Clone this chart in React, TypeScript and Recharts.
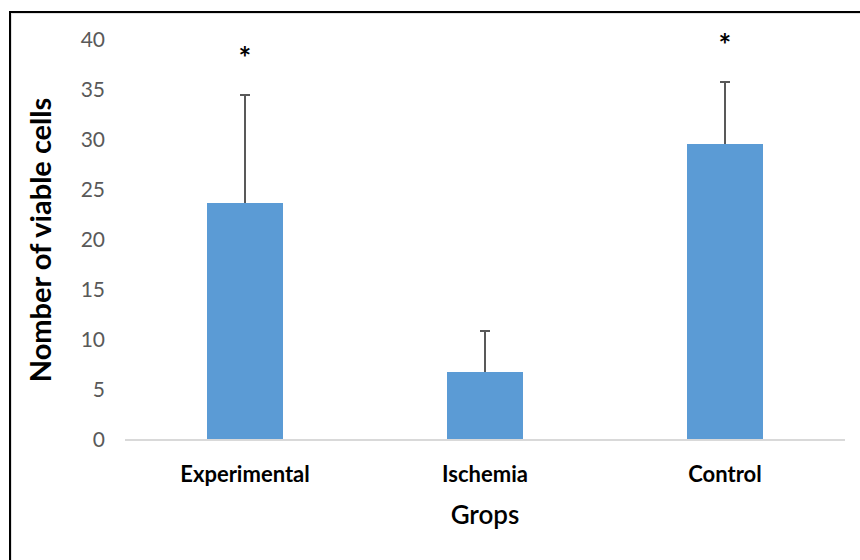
import { BarChart, Bar, XAxis, YAxis, LabelList } from 'recharts';

const groups = ['Experimental', 'Ischemia', 'Control'];
const means = [23.7, 6.8, 29.6];
const errors = [10.8, 4.1, 6.2];
const marks = ['*', '', '*'];
const yTicks = [0, 5, 10, 15, 20, 25, 30, 35, 40];

const data = groups.map((g, i) => ({ group: g, mean: means[i], err: errors[i], mark: marks[i] }));

const FONT = 'Lato, "Open Sans", sans-serif';

function Whisker(props: any) {
  const { x, y, width, height, index } = props;
  const v = means[index];
  if (!v) return null;
  const k = height / v;
  const top = y - errors[index] * k;
  const cx = x + width / 2;
  return (
    <g>
      <line x1={cx} y1={y} x2={cx} y2={top} stroke="#595959" strokeWidth={2} />
      <line x1={cx - 5} y1={top} x2={cx + 5} y2={top} stroke="#595959" strokeWidth={2} />
      {marks[index] ? (
        <text x={cx} y={top - 26} textAnchor="middle" fontSize={30} fontWeight={700} fill="#000" fontFamily={FONT}>
          {marks[index]}
        </text>
      ) : null}
    </g>
  );
}

function YTitle(props: any) {
  const vb = props.viewBox || { y: 40, height: 400 };
  const cy = vb.y + vb.height / 2;
  return (
    <text
      x={39}
      y={cy}
      transform={`rotate(-90, 39, ${cy})`}
      textAnchor="middle"
      dominantBaseline="central"
      fontSize={29}
      fontWeight={700}
      fill="#000"
      fontFamily={FONT}
    >
      Nomber of viable cells
    </text>
  );
}

export default function App() {
  return (
    <div style={{ position: 'fixed', left: 0, top: 0, width: 860, height: 560, overflow: 'hidden', background: '#fff' }}>
      <div
        style={{
          position: 'absolute',
          left: 9,
          top: 11,
          width: 900,
          height: 600,
          border: '2px solid #000',
          boxShadow: 'inset 1px 1px 0 #e0e0e0',
        }}
      />
      <div style={{ position: 'absolute', left: 0, top: 0 }}>
        <BarChart width={860} height={560} data={data} margin={{ top: 40, right: 15, bottom: 30, left: 0 }}>
          <YAxis
            width={125}
            domain={[0, 40]}
            ticks={yTicks}
            interval={0}
            axisLine={false}
            tickLine={false}
            tickSize={0}
            tickMargin={20}
            tick={{ fontSize: 21, fill: '#595959', fontFamily: FONT }}
            label={<YTitle />}
          />
          <XAxis
            dataKey="group"
            height={90}
            tickLine={false}
            tickSize={0}
            tickMargin={26}
            axisLine={{ stroke: '#d9d9d9', strokeWidth: 2 }}
            tick={{ fontSize: 22, fontWeight: 700, fill: '#000', fontFamily: FONT }}
            label={{
              value: 'Grops',
              position: 'insideBottom',
              offset: 6,
              style: { fontSize: 26, fontWeight: 600, fill: '#000', fontFamily: FONT },
            }}
          />
          <Bar dataKey="mean" fill="#5B9BD5" barSize={76} isAnimationActive={false}>
            <LabelList dataKey="mean" content={<Whisker />} />
          </Bar>
        </BarChart>
      </div>
    </div>
  );
}
